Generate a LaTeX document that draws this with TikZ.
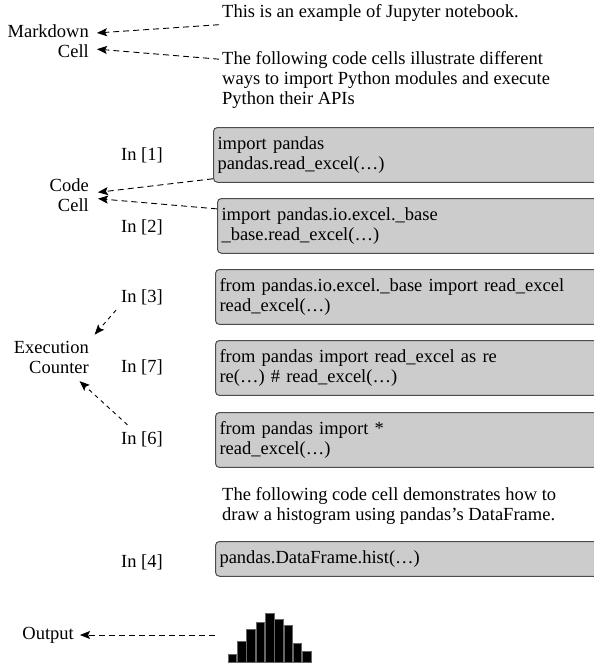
\documentclass[tikz,border=0pt]{standalone}
\usepackage{fontspec}
\setmainfont{Liberation Serif}
\usetikzlibrary{arrows.meta}

\begin{document}
\begin{tikzpicture}[x=1pt,y=-1pt,
  font=\fontsize{18.5}{20}\selectfont,
  cellbox/.style={draw=black!70,fill=black!20,rounded corners=4pt,line width=1pt,
    anchor=north west,text width=380pt,align=left,inner xsep=4pt,inner ysep=9pt},
  sidetag/.style={align=right,anchor=east,inner sep=3pt},
  intag/.style={anchor=east,inner sep=3pt},
  pointer/.style={dash pattern=on 6pt off 4pt,line width=0.9pt,
    -{Stealth[length=10pt,width=8pt,inset=2pt]}}]
  \useasboundingbox (0,0) rectangle (594,665);

  % labels on the left
  \node[sidetag] (markdown) at (92,41) {Markdown\\Cell};
  \node[sidetag] (codecell) at (92,195) {Code\\Cell};
  \node[sidetag] (counter) at (92,357) {Execution\\Counter};
  \node[sidetag] (output) at (77,635) {Output};

  % markdown cells
  \node[anchor=west,inner sep=3pt] (intro) at (219,13)
    {This is an example of Jupyter notebook.};
  \node[anchor=north west,align=left,inner sep=3pt] (ways) at (219,48)
    {The following code cells illustrate different\\
     ways to import Python modules and execute\\
     Python their APIs};
  \node[anchor=north west,align=left,inner sep=3pt] (histnote) at (219,484)
    {The following code cell demonstrates how to\\
     draw a histogram using pandas’s DataFrame.};

  % code cells
  \node[cellbox] (cella) at (213,127) {import pandas\\pandas.read\_excel(…)};
  \node[cellbox] (cellb) at (217,198) {import pandas.io.excel.\_base\\\_base.read\_excel(…)};
  \node[cellbox] (cellc) at (215,269) {from pandas.io.excel.\_base import read\_excel\\read\_excel(…)};
  \node[cellbox] (celld) at (215,340) {from pandas import read\_excel as re\\re(…) \# read\_excel(…)};
  \node[cellbox] (celle) at (215,412) {from pandas import *\\read\_excel(…)};
  \node[cellbox] (cellf) at (215,541) {pandas.DataFrame.hist(…)};

  % execution counters
  \node[intag] (ina) at (166,155) {In [1]};
  \node[intag] (inb) at (166,227) {In [2]};
  \node[intag] (inc) at (166,297) {In [3]};
  \node[intag] (ind) at (166,367) {In [7]};
  \node[intag] (ine) at (166,439) {In [6]};
  \node[intag] (inf) at (166,562) {In [4]};

  % histogram
  \foreach \h [count=\i from 0] in {8,21,33,40,49,43,37,19,11}
    \filldraw[fill=black,draw=black!60,line width=0.5pt]
      (228+\i*9.3,662) rectangle ++(8.6,-\h);
  \coordinate (hist) at (226,635);

  % pointers
  \draw[pointer,shorten >=5pt] (intro.south west) -- (markdown.10);
  \draw[pointer,shorten >=5pt] (ways.173) -- (markdown.-10);
  \draw[pointer,shorten >=6pt] (cella.187) -- (codecell.5);
  \draw[pointer,shorten >=6pt] (cellb.175) -- (codecell.-8);
  \draw[pointer,dash pattern=on 4pt off 4pt,shorten <=3pt,shorten >=4pt]
    (inc.south west) -- (counter.north east);
  \draw[pointer,dash pattern=on 4pt off 4pt,shorten <=5pt,shorten >=7pt]
    (ine.135) -- (counter.-40);
  \draw[pointer,shorten <=11pt,shorten >=3pt] (hist) -- (output.east);
\end{tikzpicture}
\end{document}
